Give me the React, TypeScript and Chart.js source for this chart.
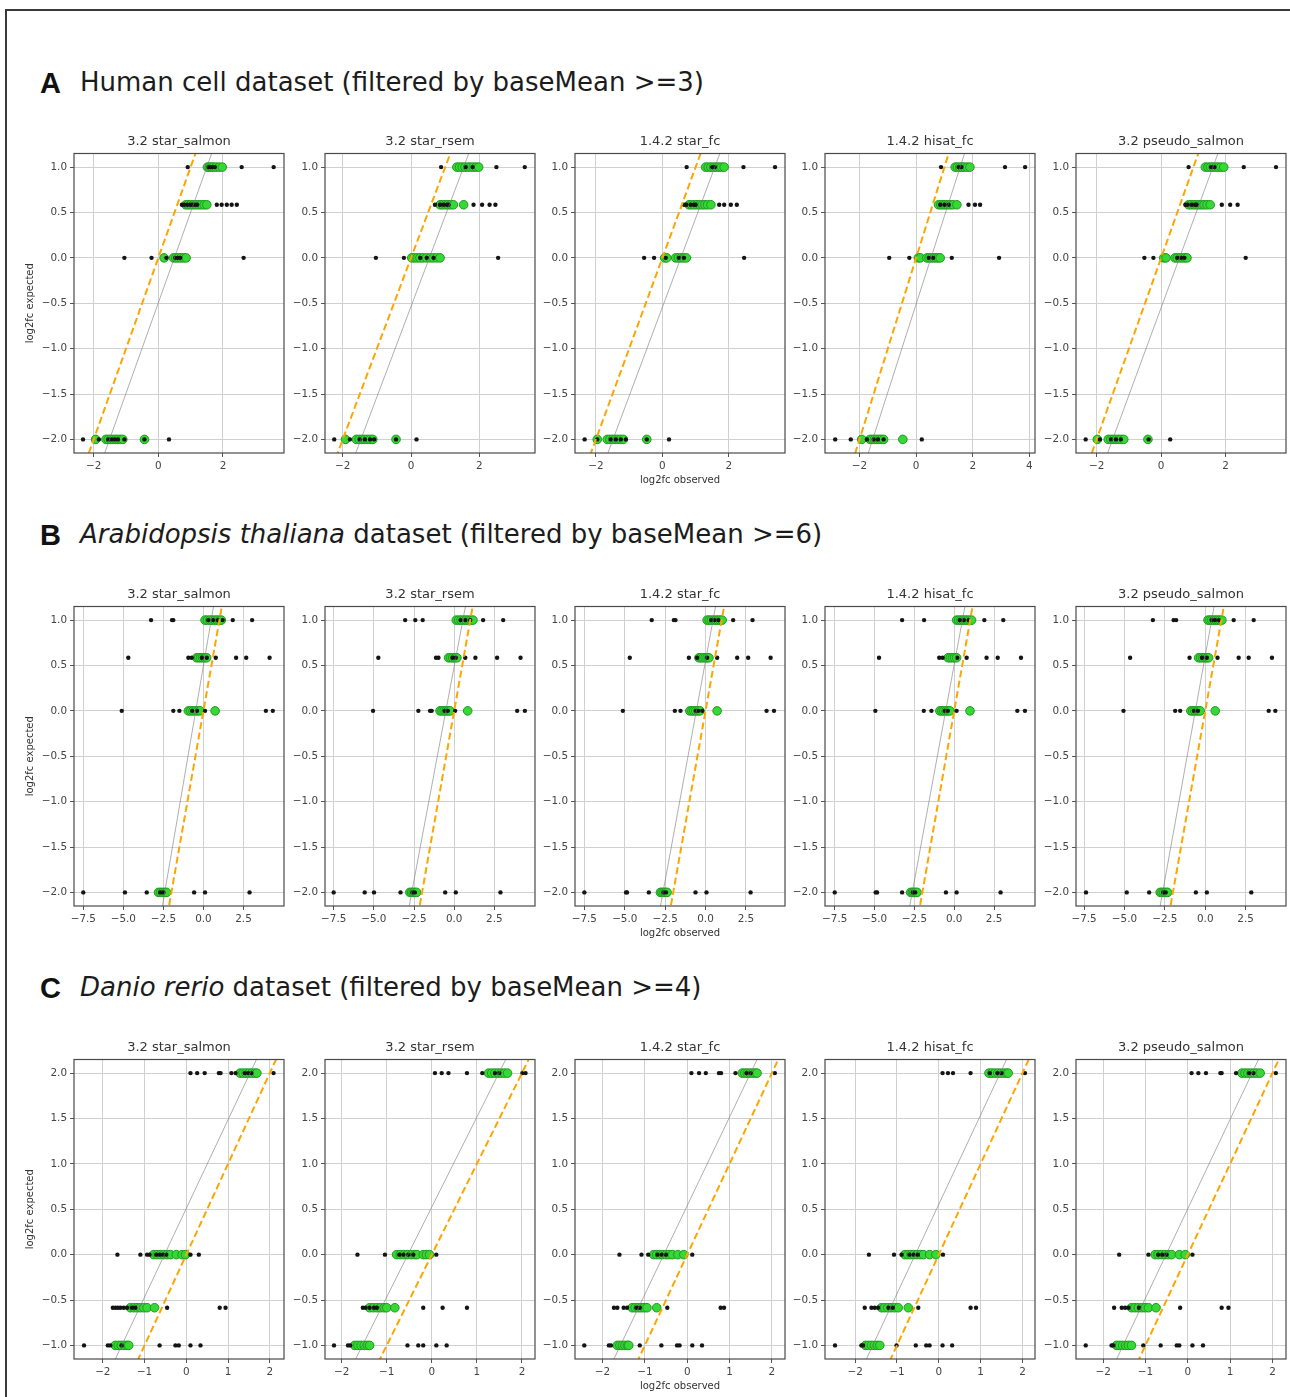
import React, { useEffect, useRef } from 'react';
import { Chart, registerables } from 'chart.js';

Chart.register(...registerables);
Chart.defaults.font.family = "'DejaVu Sans', sans-serif";

// ---------------- DATA ----------------
const panelTitles = ['3.2 star_salmon', '3.2 star_rsem', '1.4.2 star_fc', '1.4.2 hisat_fc', '3.2 pseudo_salmon'];

const yLevelsA = [1.0, 0.585, 0.0, -2.0];
const yLevelsB = [1.0, 0.585, 0.0, -2.0];
const yLevelsC = [2.0, 0.0, -0.585, -1.0];

const yTicksAB = [-2, -1.5, -1, -0.5, 0, 0.5, 1];
const yTicksC = [-1, -0.5, 0, 0.5, 1, 1.5, 2];
const xTicksA = [-4, -2, 0, 2, 4];
const xTicksB = [-7.5, -5, -2.5, 0, 2.5];
const xTicksC = [-2, -1, 0, 1, 2];

const yRangeAB = [-2.15, 1.15];
const yRangeC = [-1.15, 2.15];

const identityLine = [[-10, -10], [10, 10]];

// Row A: Human cell dataset (levels 1.0, 0.585, 0, -2)
const A1_xRange = [-2.61, 3.89];
const A1_black = [
  [0.91, 1.55, 1.62, 1.68, 1.75, 2.58, 3.57],
  [0.73, 0.8, 0.9, 1.0, 1.05, 1.12, 1.2, 1.81, 1.96, 2.12, 2.27, 2.43],
  [-1.05, -0.21, 0.25, 0.52, 0.6, 0.68, 2.64],
  [-2.33, -1.84, -1.55, -1.45, -1.35, -1.25, -1.05, -0.43, 0.33],
];
const A1_green = [
  [1.52, 1.58, 1.64, 1.7, 1.78, 1.88, 1.98],
  [0.85, 0.92, 1.0, 1.08, 1.16, 1.25, 1.33, 1.42, 1.5],
  [0.18, 0.47, 0.54, 0.62, 0.7, 0.78, 0.86],
  [-1.94, -1.62, -1.55, -1.48, -1.4, -1.32, -1.25, -1.17, -1.1, -0.43],
];
const A1_gray = [[-1.66, -2.15], [1.65, 1.15]];

const A2_xRange = [-2.52, 3.63];
const A2_black = [
  [0.88, 1.6, 1.8, 2.5, 3.33],
  [0.7, 0.85, 0.95, 1.05, 1.1, 1.83, 2.08, 2.3, 2.47],
  [-1.03, -0.21, 0.27, 0.46, 0.66, 2.55],
  [-2.25, -1.79, -1.5, -1.35, -1.2, -1.08, -0.44, 0.16],
];
const A2_green = [
  [1.34, 1.42, 1.5, 1.58, 1.66, 1.74, 1.82, 1.9, 1.98],
  [0.85, 0.92, 1.0, 1.08, 1.16, 1.24, 1.54],
  [0.02, 0.1, 0.18, 0.26, 0.35, 0.45, 0.55, 0.65, 0.75, 0.85],
  [-1.92, -1.6, -1.52, -1.44, -1.36, -1.28, -1.2, -1.12, -0.44],
];
const A2_gray = [[-1.62, -2.15], [1.69, 1.15]];

const A3_xRange = [-2.63, 3.69];
const A3_black = [
  [0.73, 1.5, 1.58, 2.44, 3.39],
  [0.65, 0.72, 0.85, 0.95, 1.0, 1.71, 1.86, 2.06, 2.24],
  [-0.55, -0.25, 0.1, 0.5, 0.65, 2.46],
  [-2.34, -1.96, -1.55, -1.4, -1.25, -1.1, -0.47, 0.2],
];
const A3_green = [
  [1.3, 1.38, 1.46, 1.54, 1.62, 1.7, 1.78, 1.86],
  [0.8, 0.88, 0.96, 1.04, 1.12, 1.2, 1.28, 1.36, 1.46],
  [0.07, 0.13, 0.4, 0.48, 0.56, 0.64, 0.72],
  [-1.96, -1.66, -1.58, -1.5, -1.42, -1.34, -1.26, -1.18, -0.47],
];
const A3_gray = [[-1.64, -2.15], [1.73, 1.15]];

const A4_xRange = [-3.22, 4.2];
const A4_black = [
  [0.88, 1.5, 1.6, 3.14, 3.85],
  [0.85, 1.0, 1.15, 1.85, 2.08, 2.26],
  [-0.95, -0.24, 0.45, 0.6, 1.26, 2.93],
  [-2.86, -2.31, -1.74, -1.5, -1.35, -1.15, 0.2],
];
const A4_green = [
  [1.38, 1.46, 1.54, 1.62, 1.7, 1.8, 1.9],
  [0.79, 0.87, 0.95, 1.03, 1.11, 1.2, 1.3, 1.44],
  [0.08, 0.15, 0.38, 0.46, 0.54, 0.62, 0.7, 0.78, 0.85],
  [-1.92, -1.63, -1.55, -1.47, -1.39, -1.31, -1.23, -1.15, -0.47],
];
const A4_gray = [[-1.69, -2.15], [1.71, 1.15]];

const A5_xRange = [-2.64, 3.87];
const A5_black = [
  [0.85, 1.55, 1.65, 2.56, 3.56],
  [0.75, 0.82, 0.95, 1.05, 1.1, 1.88, 2.14, 2.37],
  [-0.52, -0.24, 0.5, 0.62, 0.72, 2.62],
  [-2.34, -1.9, -1.55, -1.4, -1.25, -0.39, 0.28],
];
const A5_green = [
  [1.37, 1.45, 1.53, 1.61, 1.69, 1.77, 1.85, 1.94],
  [0.85, 0.93, 1.01, 1.09, 1.17, 1.25, 1.33, 1.42, 1.52],
  [0.08, 0.15, 0.43, 0.5, 0.58, 0.66, 0.74, 0.8],
  [-1.98, -1.64, -1.56, -1.48, -1.4, -1.32, -1.24, -1.16, -0.41],
];
const A5_gray = [[-1.66, -2.15], [1.76, 1.15]];

// Row B: Arabidopsis thaliana dataset (levels 1.0, 0.585, 0, -2)
const B1_xRange = [-8.08, 5.03];
const B1_black = [
  [-3.27, -1.96, -1.88, 0.3, 0.6, 0.9, 1.2, 1.83, 3.04],
  [-4.69, -0.94, -0.73, -0.1, 0.21, 0.77, 2.04, 2.67, 4.13],
  [-5.1, -1.88, -1.5, -0.7, -0.4, 0.1, 3.9, 4.33],
  [-7.5, -4.9, -3.54, -2.7, -2.5, -0.58, 0.1, 2.88],
];
const B1_green = [
  [0.1, 0.25, 0.4, 0.55, 0.7, 0.85, 1.0, 1.12],
  [-0.42, -0.3, -0.18, -0.05, 0.08, 0.2],
  [-0.94, -0.8, -0.65, -0.5, -0.36, -0.21, 0.73],
  [-2.8, -2.68, -2.55, -2.42, -2.3],
];
const B1_gray = [[-2.56, -2.15], [0.63, 1.15]];

const B2_xRange = [-8.04, 5.03];
const B2_black = [
  [-3.05, -2.42, -1.96, 0.4, 0.7, 1.0, 1.8, 3.05],
  [-4.72, -1.13, -0.98, -0.1, 0.1, 0.69, 1.32, 2.67, 4.13],
  [-5.05, -2.23, -1.5, -1.4, -0.6, -0.4, 0.06, 3.92, 4.4],
  [-7.5, -5.57, -4.99, -3.34, -2.6, -2.45, -0.56, 0.1, 2.88],
];
const B2_green = [
  [0.13, 0.28, 0.43, 0.58, 0.73, 0.88, 1.03, 1.17],
  [-0.35, -0.22, -0.09, 0.04, 0.17],
  [-0.88, -0.75, -0.62, -0.5, -0.38, -0.25, 0.84],
  [-2.76, -2.65, -2.55, -2.45, -2.34],
];
const B2_gray = [[-2.8, -2.15], [0.7, 1.15]];

const B3_xRange = [-8.08, 4.92];
const B3_black = [
  [-3.33, -1.96, -1.86, 0.35, 0.55, 0.8, 1.71, 2.91],
  [-4.69, -1.03, -0.52, 0.1, 0.72, 1.96, 2.64, 4.03],
  [-5.12, -1.9, -1.55, -0.6, -0.45, -0.2, 3.78, 4.24],
  [-7.5, -4.92, -4.86, -3.51, -2.6, -2.45, -0.62, 0.06, 2.79],
];
const B3_green = [
  [0.1, 0.23, 0.36, 0.5, 0.63, 0.77, 0.9, 1.03],
  [-0.41, -0.28, -0.15, -0.02, 0.1, 0.21],
  [-0.97, -0.84, -0.72, -0.6, -0.47, -0.35, 0.72],
  [-2.79, -2.69, -2.58, -2.48, -2.38],
];
const B3_gray = [[-2.79, -2.15], [0.62, 1.15]];

const B4_xRange = [-8.11, 5.07];
const B4_black = [
  [-3.27, -1.89, 0.35, 0.6, 0.9, 1.89, 3.08],
  [-4.72, -0.94, -0.73, 0.19, 0.78, 2.03, 2.73, 4.19],
  [-4.95, -1.91, -1.43, -0.6, -0.4, 0.15, 3.96, 4.44],
  [-7.5, -4.93, -4.84, -3.27, -2.6, -2.45, -0.52, 0.15, 2.91],
];
const B4_green = [
  [0.15, 0.28, 0.42, 0.55, 0.69, 0.82, 0.96, 1.09],
  [-0.38, -0.25, -0.11, 0.02, 0.15],
  [-0.9, -0.77, -0.65, -0.52, -0.4, -0.27, 0.99],
  [-2.73, -2.63, -2.53, -2.43, -2.33],
];
const B4_gray = [[-2.79, -2.15], [0.67, 1.15]];

const B5_xRange = [-8.0, 5.0];
const B5_black = [
  [-3.24, -1.96, -1.8, 0.4, 0.6, 0.85, 1.76, 3.0],
  [-4.65, -0.97, -0.2, 0.1, 0.76, 2.07, 2.69, 4.13],
  [-5.06, -1.86, -1.55, -0.7, -0.45, 3.93, 4.34],
  [-7.38, -4.86, -3.47, -2.6, -2.45, -0.58, 0.1, 2.85],
];
const B5_green = [
  [0.17, 0.29, 0.41, 0.54, 0.66, 0.79, 0.91, 1.03],
  [-0.41, -0.28, -0.15, -0.02, 0.1, 0.21],
  [-0.89, -0.77, -0.65, -0.53, -0.41, -0.31, 0.62],
  [-2.79, -2.68, -2.56, -2.44, -2.33],
];
const B5_gray = [[-2.79, -2.15], [0.55, 1.15]];

// Row C: Danio rerio dataset (levels 2, 0, -0.585, -1)
const C1_xRange = [-2.69, 2.34];
const C1_black = [
  [0.1, 0.26, 0.44, 0.78, 0.82, 1.08, 1.18, 1.4, 1.48, 1.56, 2.09],
  [-1.65, -1.1, -0.94, -0.88, -0.72, -0.64, -0.56, -0.48, 0.1, 0.3],
  [-1.76, -1.7, -1.64, -1.58, -1.5, -1.42, -1.3, -1.22, -0.46, 0.8, 0.94],
  [-2.45, -1.88, -1.82, -1.55, -0.64, -0.26, -0.18, 0.1, 0.34],
];
const C1_green = [
  [1.29, 1.36, 1.43, 1.5, 1.57, 1.64, 1.69],
  [-0.78, -0.7, -0.62, -0.54, -0.46, -0.38, -0.24, -0.1, -0.02],
  [-1.34, -1.26, -1.18, -1.1, -1.02, -0.94, -0.76],
  [-1.7, -1.63, -1.56, -1.49, -1.42, -1.38],
];
const C1_gray = [[-1.7, -1.15], [1.68, 2.15]];

const C2_xRange = [-2.37, 2.29];
const C2_black = [
  [0.07, 0.22, 0.37, 0.78, 1.12, 1.4, 1.5, 2.01, 2.08],
  [-1.65, -1.04, -0.72, -0.63, -0.52, -0.41, 0.1],
  [-1.53, -1.47, -1.38, -1.28, -1.22, -0.19, 0.24, 0.78],
  [-2.17, -1.86, -1.81, -0.54, -0.3, -0.19, 0.1, 0.33],
];
const C2_green = [
  [1.26, 1.33, 1.4, 1.47, 1.54, 1.61, 1.68],
  [-0.78, -0.7, -0.62, -0.54, -0.46, -0.38, -0.33, -0.19, -0.12, -0.05],
  [-1.38, -1.3, -1.22, -1.14, -1.06, -1.0, -0.82],
  [-1.71, -1.64, -1.57, -1.5, -1.43, -1.38],
];
const C2_gray = [[-1.69, -1.15], [1.64, 2.15]];

const C3_xRange = [-2.65, 2.31];
const C3_black = [
  [0.1, 0.28, 0.44, 0.75, 0.8, 1.14, 1.4, 1.5, 2.07],
  [-1.6, -1.08, -0.92, -0.7, -0.6, -0.5, 0.12],
  [-1.73, -1.65, -1.5, -1.42, -1.2, -1.12, -0.47, 0.79, 0.87],
  [-2.43, -1.85, -1.8, -1.12, -0.61, -0.24, -0.18, 0.12, 0.35],
];
const C3_green = [
  [1.3, 1.36, 1.42, 1.48, 1.54, 1.6, 1.65],
  [-0.79, -0.72, -0.65, -0.58, -0.5, -0.43, -0.35, -0.22, -0.08],
  [-1.3, -1.23, -1.16, -1.09, -1.02, -0.95, -0.72],
  [-1.65, -1.59, -1.53, -1.47, -1.41, -1.38],
];
const C3_gray = [[-1.73, -1.15], [1.65, 2.15]];

const C4_xRange = [-2.72, 2.3];
const C4_black = [
  [0.09, 0.22, 0.34, 0.76, 1.22, 1.4, 1.5, 2.06],
  [-1.67, -1.07, -0.89, -0.7, -0.6, -0.5, 0.1],
  [-1.77, -1.61, -1.53, -1.45, -1.2, -1.1, -0.49, 0.76, 0.89],
  [-2.48, -1.85, -1.81, -1.01, -0.55, -0.3, -0.22, 0.09, 0.32],
];
const C4_green = [
  [1.2, 1.27, 1.34, 1.41, 1.48, 1.55, 1.62, 1.66],
  [-0.81, -0.74, -0.67, -0.6, -0.52, -0.44, -0.37, -0.22, -0.07],
  [-1.37, -1.3, -1.22, -1.14, -1.06, -0.97, -0.73],
  [-1.75, -1.68, -1.61, -1.54, -1.47, -1.41],
];
const C4_gray = [[-1.73, -1.15], [1.62, 2.15]];

const C5_xRange = [-2.64, 2.32];
const C5_black = [
  [0.09, 0.25, 0.43, 0.77, 0.8, 1.14, 1.45, 1.55, 2.08],
  [-1.62, -0.93, -0.7, -0.6, -0.5, 0.11],
  [-1.74, -1.56, -1.48, -1.4, -1.15, -0.18, 0.8, 0.96],
  [-2.41, -1.8, -1.76, -1.05, -0.64, -0.26, -0.2, 0.11, 0.36],
];
const C5_green = [
  [1.28, 1.35, 1.42, 1.49, 1.56, 1.63, 1.71],
  [-0.77, -0.7, -0.62, -0.54, -0.46, -0.38, -0.2, -0.06],
  [-1.33, -1.25, -1.17, -1.09, -1.01, -0.93, -0.75],
  [-1.68, -1.61, -1.54, -1.47, -1.4, -1.33],
];
const C5_gray = [[-1.68, -1.15], [1.67, 2.15]];

// ---------------- LAYOUT ----------------
const PANEL_LEFTS = [74, 325, 575, 825, 1076];
const ROW_TOPS = [153, 606, 1059];
const PLOT_W = 210;
const PLOT_H = 300;
const PAD_L = 70;
const PAD_T = 30;
const PAD_R = 8;
const PAD_B = 40;
const CW = PAD_L + PLOT_W + PAD_R;
const CH = PAD_T + PLOT_H + PAD_B;

const fmt = (v: number, dec: number) => (v < -1e-9 ? '\u2212' : '') + Math.abs(v).toFixed(dec);

const frameBox = {
  id: 'frameBox',
  afterDatasetsDraw(chart: any) {
    const { ctx, chartArea } = chart;
    ctx.save();
    ctx.strokeStyle = '#4a4a4a';
    ctx.lineWidth = 1.2;
    ctx.strokeRect(chartArea.left, chartArea.top, chartArea.right - chartArea.left, chartArea.bottom - chartArea.top);
    ctx.restore();
  },
};

type PanelDef = {
  title: string;
  black: number[][];
  green: number[][];
  gray: number[][];
  xRange: number[];
};

type RowDef = {
  levels: number[];
  yRange: number[];
  yTicks: number[];
  xTicks: number[];
  xDec: number;
  panels: PanelDef[];
};

const rows: RowDef[] = [
  {
    levels: yLevelsA, yRange: yRangeAB, yTicks: yTicksAB, xTicks: xTicksA, xDec: 0,
    panels: [
      { title: panelTitles[0], black: A1_black, green: A1_green, gray: A1_gray, xRange: A1_xRange },
      { title: panelTitles[1], black: A2_black, green: A2_green, gray: A2_gray, xRange: A2_xRange },
      { title: panelTitles[2], black: A3_black, green: A3_green, gray: A3_gray, xRange: A3_xRange },
      { title: panelTitles[3], black: A4_black, green: A4_green, gray: A4_gray, xRange: A4_xRange },
      { title: panelTitles[4], black: A5_black, green: A5_green, gray: A5_gray, xRange: A5_xRange },
    ],
  },
  {
    levels: yLevelsB, yRange: yRangeAB, yTicks: yTicksAB, xTicks: xTicksB, xDec: 1,
    panels: [
      { title: panelTitles[0], black: B1_black, green: B1_green, gray: B1_gray, xRange: B1_xRange },
      { title: panelTitles[1], black: B2_black, green: B2_green, gray: B2_gray, xRange: B2_xRange },
      { title: panelTitles[2], black: B3_black, green: B3_green, gray: B3_gray, xRange: B3_xRange },
      { title: panelTitles[3], black: B4_black, green: B4_green, gray: B4_gray, xRange: B4_xRange },
      { title: panelTitles[4], black: B5_black, green: B5_green, gray: B5_gray, xRange: B5_xRange },
    ],
  },
  {
    levels: yLevelsC, yRange: yRangeC, yTicks: yTicksC, xTicks: xTicksC, xDec: 0,
    panels: [
      { title: panelTitles[0], black: C1_black, green: C1_green, gray: C1_gray, xRange: C1_xRange },
      { title: panelTitles[1], black: C2_black, green: C2_green, gray: C2_gray, xRange: C2_xRange },
      { title: panelTitles[2], black: C3_black, green: C3_green, gray: C3_gray, xRange: C3_xRange },
      { title: panelTitles[3], black: C4_black, green: C4_green, gray: C4_gray, xRange: C4_xRange },
      { title: panelTitles[4], black: C5_black, green: C5_green, gray: C5_gray, xRange: C5_xRange },
    ],
  },
];

type PanelProps = {
  panel: PanelDef;
  row: RowDef;
  col: number;
  left: number;
  top: number;
};

function Panel({ panel, row, col, left, top }: PanelProps) {
  const ref = useRef<HTMLCanvasElement | null>(null);
  useEffect(() => {
    if (!ref.current) return;
    const toPts = (arr: number[][]) => arr.flatMap((xs, i) => xs.map((x) => ({ x, y: row.levels[i] })));
    const toLine = (arr: number[][]) => arr.map(([x, y]) => ({ x, y }));
    const [xmin, xmax] = panel.xRange;
    const [ymin, ymax] = row.yRange;
    const tickFont = { family: "'DejaVu Sans', sans-serif", size: 10.4 };
    const chart = new Chart(ref.current, {
      type: 'scatter',
      data: {
        datasets: [
          {
            type: 'line',
            data: toLine(identityLine),
            borderColor: '#ffa500',
            borderWidth: 2,
            borderDash: [7, 3.5],
            pointRadius: 0,
            fill: false,
            tension: 0,
            order: 0,
          } as any,
          {
            type: 'line',
            data: toLine(panel.gray),
            borderColor: 'rgba(120,120,120,0.75)',
            borderWidth: 0.8,
            pointRadius: 0,
            fill: false,
            tension: 0,
            order: 1,
          } as any,
          {
            data: toPts(panel.black),
            pointBackgroundColor: '#141414',
            pointBorderColor: '#141414',
            pointBorderWidth: 0,
            pointRadius: 2.2,
            order: 2,
          } as any,
          {
            data: toPts(panel.green),
            pointBackgroundColor: '#35d835',
            pointBorderColor: '#1f9a1f',
            pointBorderWidth: 1,
            pointRadius: 4.3,
            order: 3,
          } as any,
        ],
      },
      options: {
        animation: false,
        responsive: false,
        devicePixelRatio: 1,
        events: [],
        layout: { padding: { top: 10.5, left: 0, right: PAD_R, bottom: 0 } },
        plugins: {
          legend: { display: false },
          tooltip: { enabled: false },
          title: {
            display: true,
            fullSize: false,
            align: 'center',
            text: panel.title,
            color: '#333',
            font: { family: "'DejaVu Sans', sans-serif", size: 13, weight: 'normal', lineHeight: 1.2 },
            padding: { top: 0, bottom: 4.4 },
          },
        },
        scales: {
          x: {
            type: 'linear',
            min: xmin,
            max: xmax,
            bounds: 'data',
            afterBuildTicks: (s: any) => {
              s.ticks = row.xTicks.filter((v) => v >= xmin && v <= xmax).map((v) => ({ value: v }));
            },
            afterFit: (s: any) => {
              s.height = PAD_B;
            },
            grid: { color: '#d0d0d0', lineWidth: 1, drawTicks: true, tickLength: 4, tickColor: '#555', tickWidth: 1 },
            border: { display: false },
            ticks: {
              font: tickFont,
              color: '#444',
              padding: 3,
              maxRotation: 0,
              autoSkip: false,
              callback: (v: any) => fmt(Number(v), row.xDec),
            },
            title: {
              display: col === 2,
              text: 'log2fc observed',
              color: '#333',
              font: { family: "'DejaVu Sans', sans-serif", size: 10, lineHeight: 1.2 },
              padding: { top: 0, bottom: 7 },
            },
          },
          y: {
            type: 'linear',
            min: ymin,
            max: ymax,
            bounds: 'data',
            afterBuildTicks: (s: any) => {
              s.ticks = row.yTicks.map((v) => ({ value: v }));
            },
            afterFit: (s: any) => {
              s.width = PAD_L;
            },
            grid: { color: '#d0d0d0', lineWidth: 1, drawTicks: true, tickLength: 4, tickColor: '#555', tickWidth: 1 },
            border: { display: false },
            ticks: {
              font: tickFont,
              color: '#444',
              padding: 3,
              autoSkip: false,
              callback: (v: any) => fmt(Number(v), 1),
            },
            title: {
              display: col === 0,
              text: 'log2fc expected',
              color: '#333',
              font: { family: "'DejaVu Sans', sans-serif", size: 10, lineHeight: 1.2 },
              padding: { top: 20, bottom: 0 },
            },
          },
        },
      } as any,
      plugins: [frameBox],
    });
    return () => chart.destroy();
  }, [panel, row, col]);
  return (
    <canvas
      ref={ref}
      width={CW}
      height={CH}
      style={{ position: 'absolute', left: left - PAD_L, top: top - PAD_T, width: CW, height: CH }}
    />
  );
}

type RowTitleProps = { letter: string; top: number; children: React.ReactNode };

function RowTitle({ letter, top, children }: RowTitleProps) {
  return (
    <div
      style={{
        position: 'absolute',
        left: 40,
        top,
        lineHeight: '30px',
        whiteSpace: 'nowrap',
        fontFamily: "'DejaVu Sans', sans-serif",
        fontSize: 26,
        color: '#1c1c1c',
      }}
    >
      <span
        style={{
          display: 'inline-block',
          width: 40,
          fontFamily: "'Liberation Sans', Arial, sans-serif",
          fontWeight: 'bold',
          fontSize: 29,
          color: '#111',
          verticalAlign: -2,
        }}
      >
        {letter}
      </span>
      {children}
    </div>
  );
}

export default function App() {
  return (
    <div
      style={{
        position: 'absolute',
        left: 0,
        top: 0,
        width: 1290,
        height: 1397,
        background: '#fff',
        overflow: 'hidden',
      }}
    >
      <div
        style={{
          position: 'absolute',
          left: 5,
          top: 9,
          width: 1300,
          height: 1420,
          borderTop: '2px solid #3a3a3a',
          borderLeft: '2px solid #3a3a3a',
        }}
      />
      <RowTitle letter="A" top={66.6}>
        Human cell dataset (filtered by baseMean &gt;=3)
      </RowTitle>
      <RowTitle letter="B" top={519}>
        <i>Arabidopsis thaliana</i> dataset (filtered by baseMean &gt;=6)
      </RowTitle>
      <RowTitle letter="C" top={972.3}>
        <i>Danio rerio</i> dataset (filtered by baseMean &gt;=4)
      </RowTitle>
      {rows.map((row, r) =>
        row.panels.map((panel, c) => (
          <Panel key={`${r}-${c}`} panel={panel} row={row} col={c} left={PANEL_LEFTS[c]} top={ROW_TOPS[r]} />
        ))
      )}
    </div>
  );
}
